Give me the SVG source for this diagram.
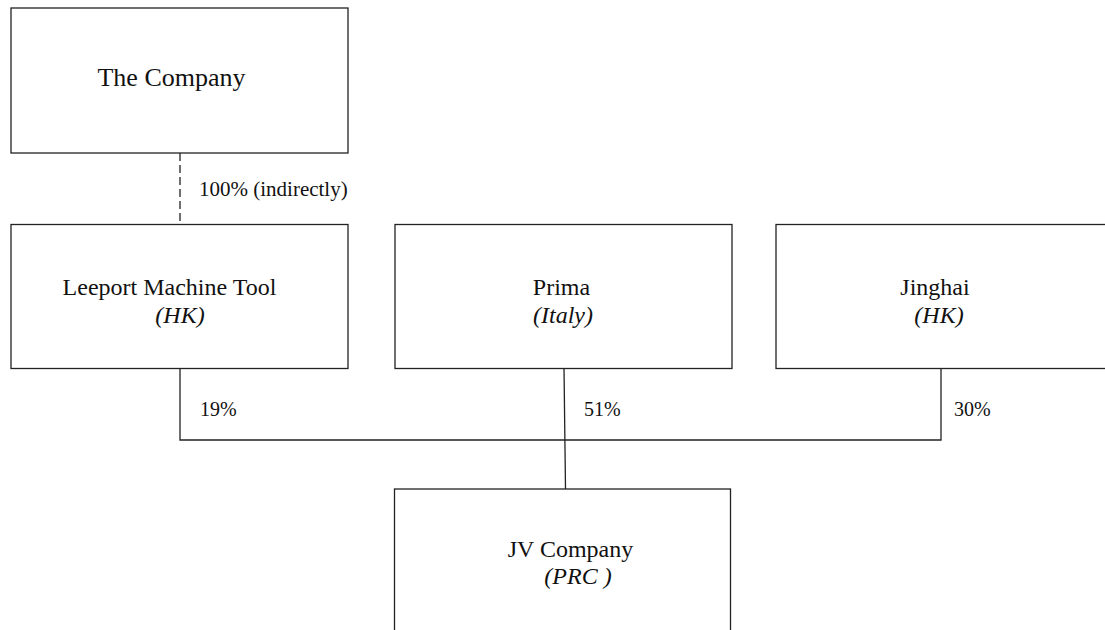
<svg xmlns="http://www.w3.org/2000/svg" width="1105" height="630" viewBox="0 0 1105 630">
<style>
.box{fill:#fff;stroke:#222;stroke-width:1.3}
.t{font-family:"Liberation Serif","Times New Roman",serif;font-size:24px;fill:#111;text-anchor:middle}
.big{font-size:26px}
.it{font-style:italic}
.lbl{font-family:"Liberation Serif","Times New Roman",serif;font-size:20px;fill:#111}
.ln{fill:none;stroke:#222;stroke-width:1.3}
.dash{stroke-dasharray:8 4}
</style>
<rect width="1105" height="630" fill="#fff"/>
<g id="connectors">
<line class="ln dash" x1="180" y1="153" x2="180" y2="225"/>
<polyline class="ln" points="180,368 180,440 941,440 941,368"/>
<line class="ln" x1="564" y1="368" x2="565.5" y2="489"/>
<text class="lbl" x="199" y="196" style="font-size:21px">100% (indirectly)</text>
<text class="lbl" x="200" y="416">19%</text>
<text class="lbl" x="584" y="416">51%</text>
<text class="lbl" x="954" y="416">30%</text>
</g>
<g id="the-company">
<rect class="box" x="11" y="8" width="337" height="145"/>
<text class="t big" x="171.5" y="86">The Company</text>
</g>
<g id="leeport">
<rect class="box" x="11" y="224.5" width="337" height="144"/>
<text class="t" x="169.5" y="295">Leeport Machine Tool</text>
<text class="t it" x="180" y="323">(HK)</text>
</g>
<g id="prima">
<rect class="box" x="395" y="224.5" width="337" height="144"/>
<text class="t" x="561.5" y="295">Prima</text>
<text class="t it" x="563" y="323">(Italy)</text>
</g>
<g id="jinghai">
<rect class="box" x="776" y="224.5" width="345" height="144"/>
<text class="t" x="935" y="295">Jinghai</text>
<text class="t it" x="939" y="323">(HK)</text>
</g>
<g id="jv-company">
<rect class="box" x="394.5" y="489" width="336" height="160"/>
<text class="t" x="570.5" y="557">JV Company</text>
<text class="t it" x="578" y="584">(PRC )</text>
</g>
</svg>
